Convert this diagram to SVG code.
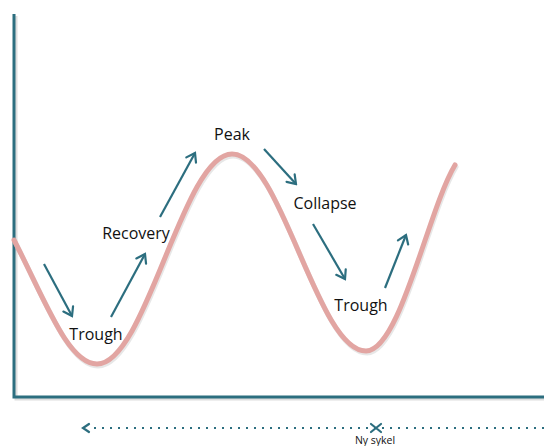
<svg xmlns="http://www.w3.org/2000/svg" width="544" height="446" viewBox="0 0 544 446">
  <defs>
    <style>
      .axis { fill: none; stroke: #2c6e7f; stroke-width: 3; }
      .axis-shadow { fill: none; stroke: #c8c8c8; stroke-width: 3; opacity: 0.6; }
      .wave { fill: none; stroke: #e2a5a2; stroke-width: 5; stroke-linecap: round; }
      .wave-shadow { fill: none; stroke: #bbbbbb; stroke-width: 5; stroke-linecap: round; opacity: 0.35; }
      .arrow { fill: none; stroke: #2c6e7f; stroke-width: 2.2; marker-end: url(#head); }
      .dots { fill: none; stroke: #2c6e7f; stroke-width: 2; stroke-dasharray: 2 6; }
      .label { font-family: "Open Sans", "Liberation Sans", Arial, sans-serif; font-size: 16px; fill: #111111; text-anchor: middle; }
      .note { font-family: "Open Sans", "Liberation Sans", Arial, sans-serif; font-size: 10.5px; fill: #111111; text-anchor: middle; }
    </style>
    <marker id="head" viewBox="-10 -7 12 14" markerWidth="12" markerHeight="14" refX="0" refY="0" orient="auto" markerUnits="userSpaceOnUse">
      <path d="M-8,-5.5 L0,0 L-8,5.5" fill="none" stroke="#2c6e7f" stroke-width="2.2" stroke-linecap="round" stroke-linejoin="miter"/>
    </marker>
  </defs>

  <!-- axes -->
  <g id="axes">
    <path class="axis-shadow" d="M16,16 L16,399 L544,399"/>
    <path class="axis" d="M14,14 L14,397 L544,397"/>
  </g>

  <!-- business cycle curve -->
  <g id="wave">
    <path class="wave-shadow" transform="translate(1,2)" d="M14,240 C45,300 68,364 97,364 C146,364 183,154 232,154 C281,154 317,351 366,351 C400,351 428,210 455,165"/>
    <path class="wave" d="M14,240 C45,300 68,364 97,364 C146,364 183,154 232,154 C281,154 317,351 366,351 C400,351 428,210 455,165"/>
  </g>

  <!-- phase labels -->
  <g id="trough-1"><text class="label" x="96" y="340">Trough</text></g>
  <g id="recovery"><text class="label" x="136" y="239">Recovery</text></g>
  <g id="peak"><text class="label" x="232" y="140">Peak</text></g>
  <g id="collapse"><text class="label" x="325" y="209">Collapse</text></g>
  <g id="trough-2"><text class="label" x="361" y="311">Trough</text></g>

  <!-- direction arrows -->
  <g id="connectors">
    <line class="arrow" x1="44" y1="264" x2="72" y2="316"/>
    <line class="arrow" x1="111" y1="317" x2="145" y2="254"/>
    <line class="arrow" x1="160" y1="217" x2="195" y2="153"/>
    <line class="arrow" x1="264" y1="149" x2="296" y2="184"/>
    <line class="arrow" x1="313" y1="224" x2="345" y2="279"/>
    <line class="arrow" x1="385" y1="288" x2="406" y2="235"/>
  </g>

  <!-- new cycle timeline -->
  <g id="timeline">
    <line class="dots" x1="94" y1="428" x2="544" y2="428"/>
    <path d="M89,424 L83,428 L89,432" fill="none" stroke="#2c6e7f" stroke-width="2.2" stroke-linecap="round"/>
    <path d="M371,424 L381,432 M371,432 L381,424" fill="none" stroke="#2c6e7f" stroke-width="2.2" stroke-linecap="round"/>
    <text class="note" x="375" y="444">Ny sykel</text>
  </g>
</svg>
